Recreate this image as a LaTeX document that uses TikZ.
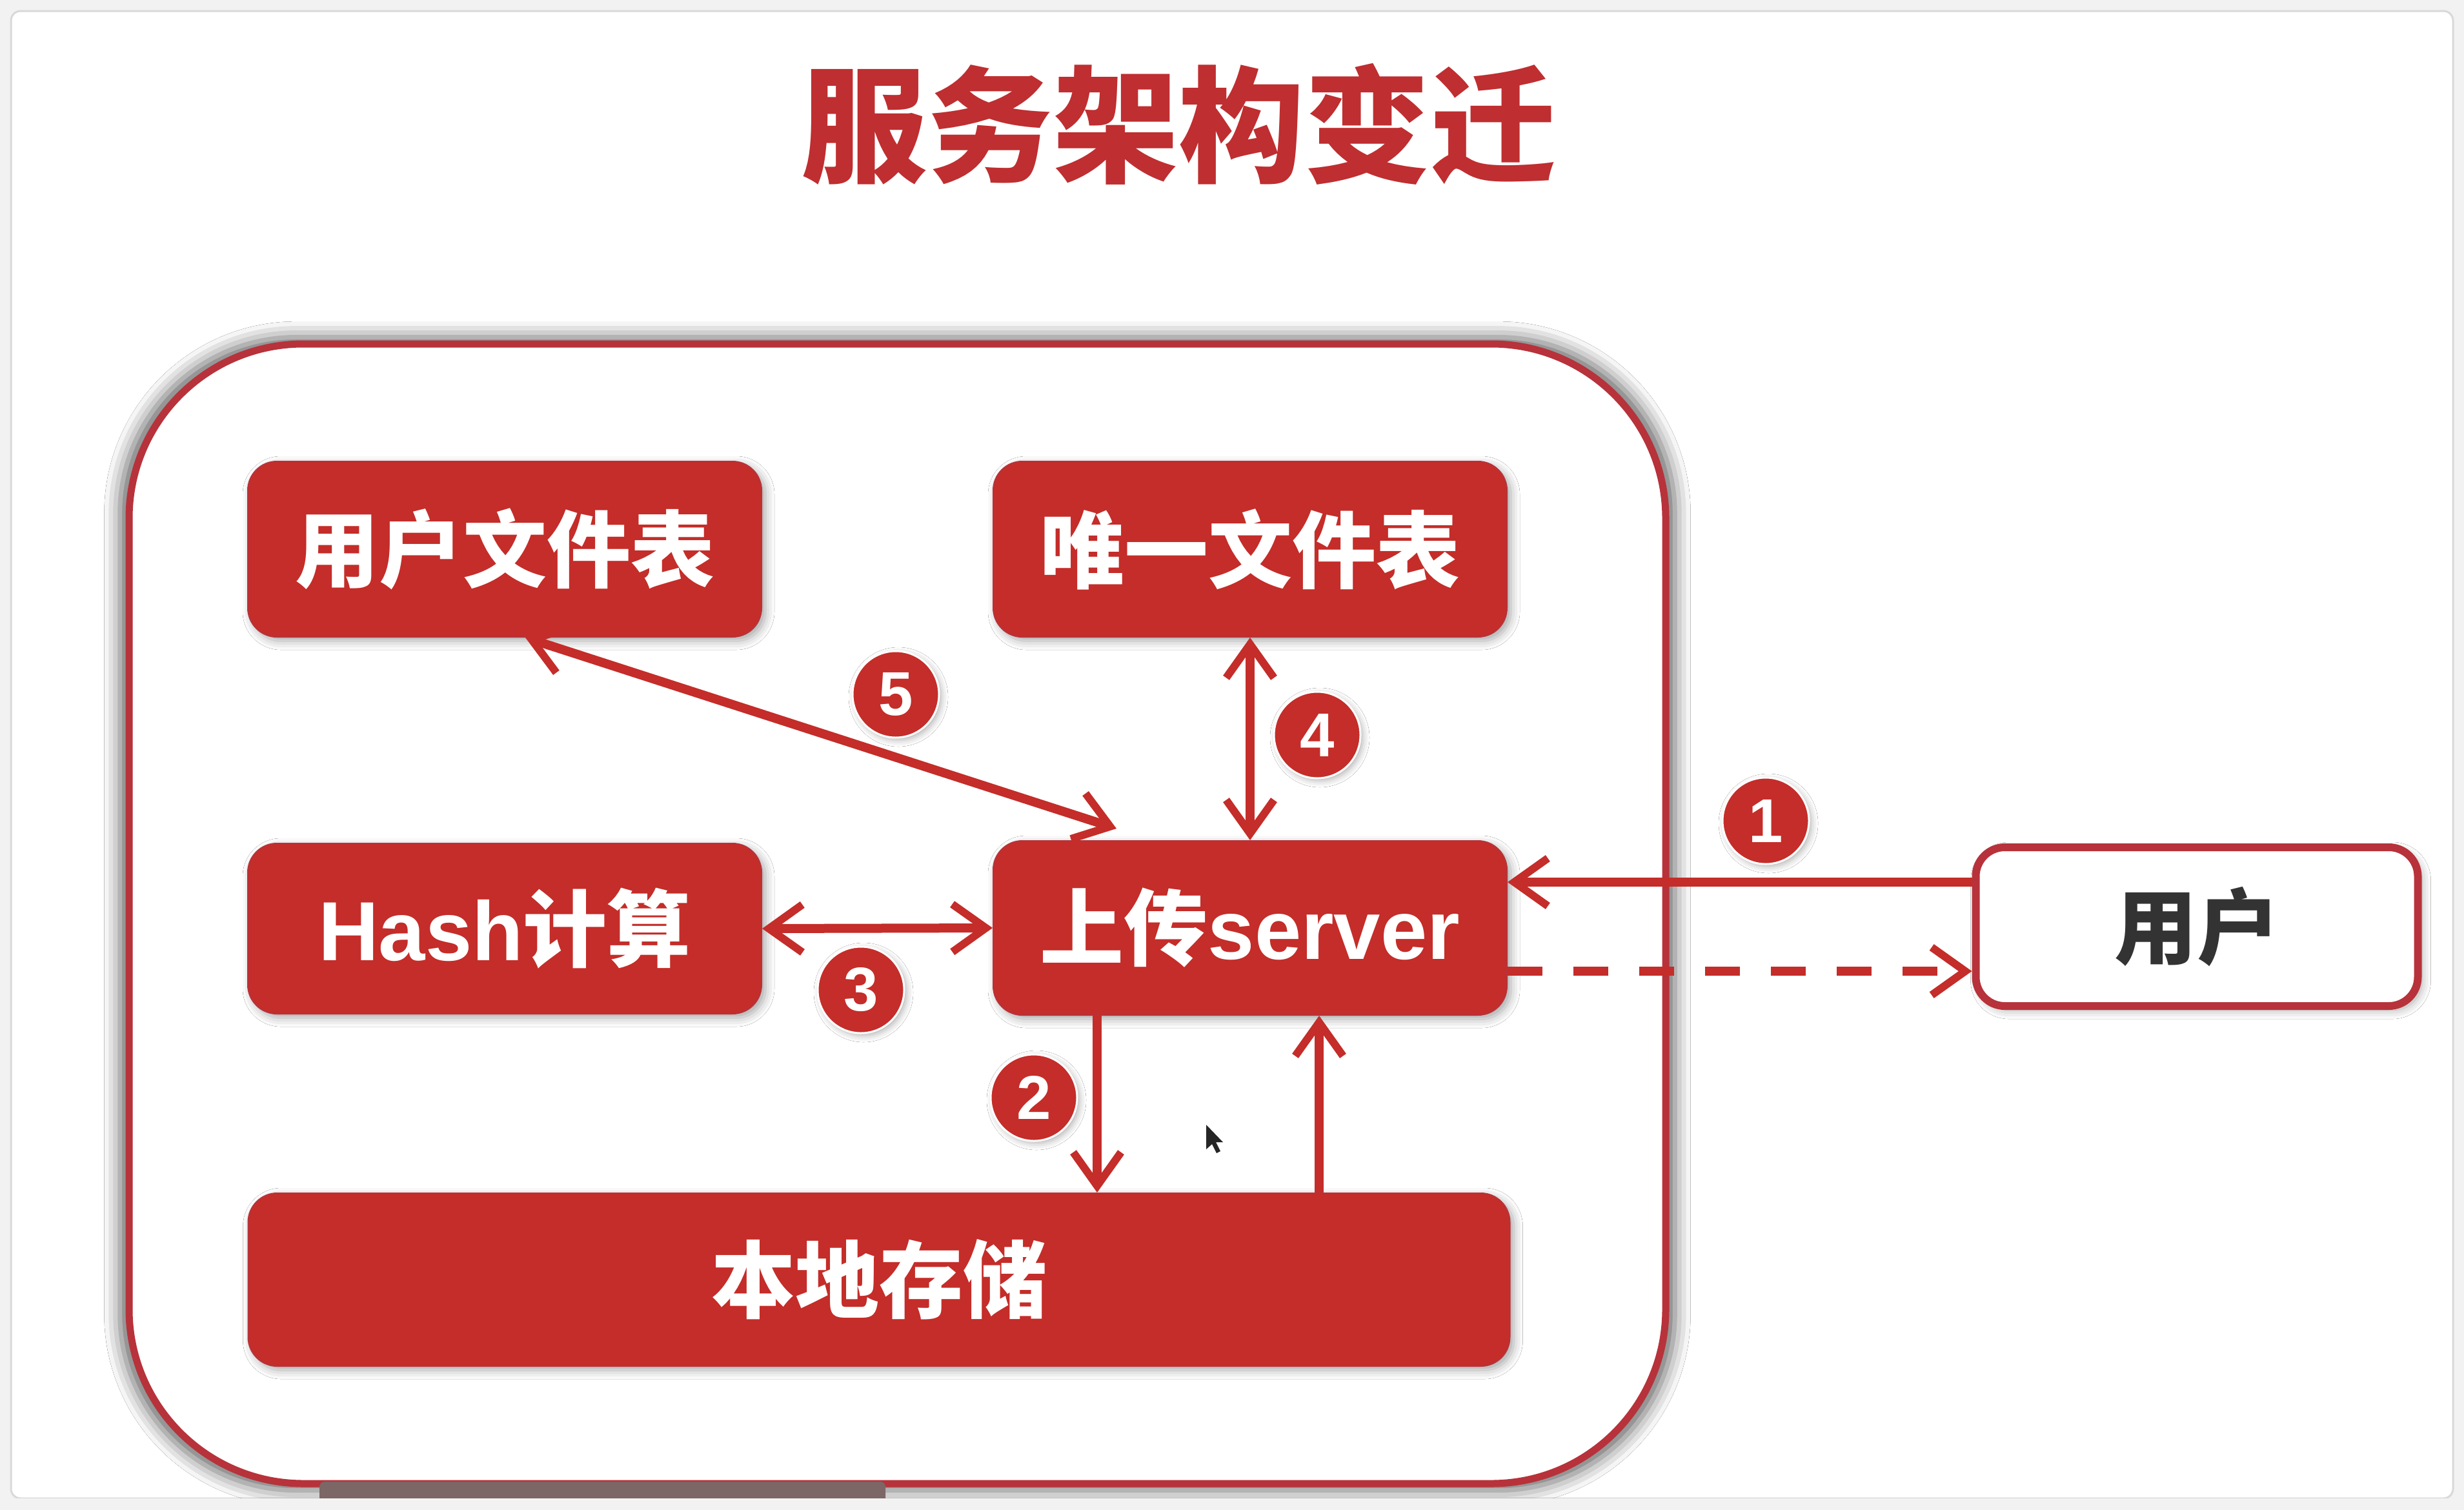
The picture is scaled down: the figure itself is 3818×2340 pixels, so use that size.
\documentclass[tikz,border=0pt]{standalone}
\usepackage{fontspec}
\newfontfamily\cjk{Noto Sans CJK SC}
\newfontfamily\lat{Liberation Sans}
\usetikzlibrary{arrows.meta,shadows.blur}
\definecolor{rd}{HTML}{C42D29}
\definecolor{rdb}{HTML}{B7323A}
\definecolor{ttl}{HTML}{BF2E30}
\definecolor{bg}{HTML}{F2F2F2}
\definecolor{usertext}{HTML}{333333}
\tikzset{
  redbox/.style={rounded corners=45pt, fill=rd, draw=rdb, line width=2pt,
    text=white, font=\cjk\bfseries\fontsize{130}{150}\selectfont,
    minimum width=796pt, minimum height=272pt, inner sep=0pt,
    blur shadow={shadow xshift=6pt, shadow yshift=-6pt, shadow blur radius=14pt, shadow opacity=35}},
  whitebox/.style={rounded corners=45pt, fill=white, draw=rdb, line width=12pt,
    text=usertext, font=\cjk\bfseries\fontsize{128}{150}\selectfont,
    minimum width=685pt, minimum height=246pt, inner sep=0pt,
    blur shadow={shadow xshift=6pt, shadow yshift=-6pt, shadow blur radius=14pt, shadow opacity=35}},
  numcirc/.style={circle, fill=rd, draw=white, line width=3pt, text=white,
    minimum size=134pt, inner sep=0pt, font=\lat\bfseries\fontsize{96}{100}\selectfont,
    blur shadow={shadow xshift=4pt, shadow yshift=-4pt, shadow blur radius=10pt, shadow opacity=30}},
  arr/.style={draw=rd, line width=14pt,
    arrows={-Straight Barb[length=52pt, width=74pt, line width=12pt]}},
  darr/.style={draw=rd, line width=14pt,
    arrows={Straight Barb[length=52pt, width=74pt, line width=12pt]-Straight Barb[length=52pt, width=74pt, line width=12pt]}},
}
\begin{document}
\begin{tikzpicture}[x=1pt, y=-1pt]
  \useasboundingbox (0,0) rectangle (3818,2340);
  % slide background
  \fill[bg] (0,0) rectangle (3818,2340);
  \fill[white, draw=black!15, line width=3pt, rounded corners=15pt] (17,17) rectangle (3801,2322);
  % title
  \node[text=ttl, font=\cjk\bfseries\fontsize{195}{200}\selectfont, inner sep=0pt] (title) at (1826,192) {服务架构变迁};
  % container
  \draw[rdb, line width=11pt, fill=white, rounded corners=270pt,
    blur shadow={shadow xshift=0pt, shadow yshift=0pt, shadow blur radius=24pt, shadow opacity=60, shadow scale=1.012}]
    (200,533) rectangle (2581,2299);
  % boxes
  \node[redbox] (uft) at (782,851) {用户文件表};
  \node[redbox] (uniq) at (1937,851) {唯一文件表};
  \node[redbox, minimum height=264pt] (hash) at (782,1439) {{\lat\bfseries Hash}计算};
  \node[redbox, minimum height=270pt] (srv) at (1937,1438) {上传{\lat\bfseries server}};
  \node[redbox, minimum width=1955pt, minimum height=268pt] (store) at (1362,1983) {本地存储};
  \node[whitebox] (user) at (3404,1436) {用户};
  % connectors
  \draw[darr] ([xshift=32pt]uft.south) -- ([xshift=-207pt, yshift=18pt]srv.north);
  \draw[darr] (uniq.south) -- (srv.north);
  \draw[darr] (hash.east) -- (srv.west);
  \coordinate (u1) at ([yshift=69pt]user.west);
  \draw[arr] (u1) -- (u1 -| srv.east);
  \coordinate (d1) at ([yshift=-67pt]srv.east);
  \draw[arr, dash pattern=on 54pt off 48pt] (d1) -- (d1 -| user.west);
  \coordinate (s2) at ([xshift=-237pt]srv.south);
  \draw[arr] (s2) -- (s2 |- store.north);
  \coordinate (s6) at ([xshift=107pt]srv.south);
  \draw[arr] (s6 |- store.north) -- (s6);
  % numbers
  \node[numcirc] (n5) at (1388,1076) {5};
  \node[numcirc] (n4) at (2041,1139) {4};
  \node[numcirc] (n1) at (2736,1272) {1};
  \node[numcirc] (n3) at (1334,1534) {3};
  \node[numcirc] (n2) at (1602,1701) {2};
  % mouse pointer
  \fill[black!85] (1869,1743) -- (1869,1781) -- (1878,1773) -- (1885,1787) -- (1891,1784) -- (1884,1770) -- (1895,1770) -- cycle;
  % player bar
  \fill[black!55!red!20!gray, rounded corners=8pt] (495,2296) rectangle (1372,2340);
  \fill[bg] (0,2322) rectangle (3818,2340);
\end{tikzpicture}
\end{document}
